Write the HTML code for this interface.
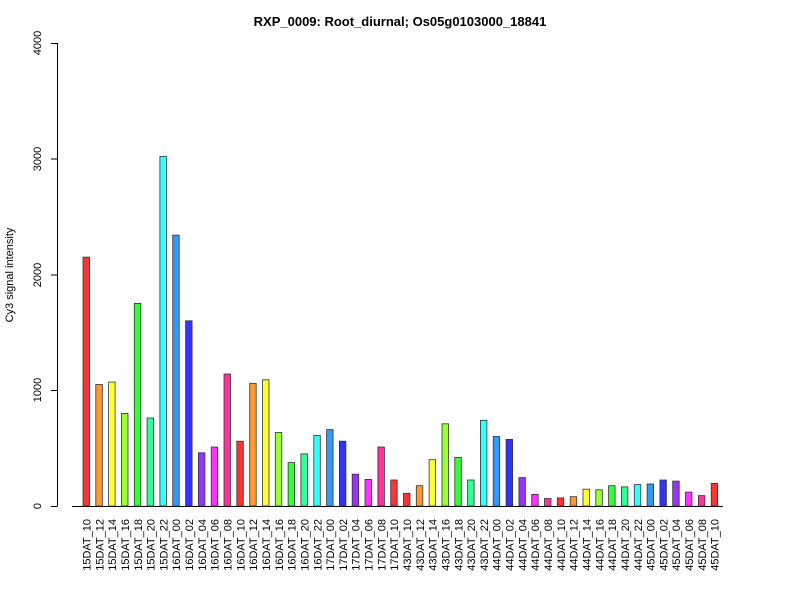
<!DOCTYPE html>
<html><head><style>body{margin:0;background:#fff}svg{display:block}
rect.b{stroke:#333;stroke-width:0.8}
.h10{fill:#FF3333}.h12{fill:#FF9933}.h14{fill:#FFFF33}.h16{fill:#99FF33}.h18{fill:#33FF33}.h20{fill:#33FF99}
.h22{fill:#33FFFF}.h00{fill:#3399FF}.h02{fill:#3333FF}.h04{fill:#9933FF}.h06{fill:#FF33FF}.h08{fill:#FF3399}
</style></head><body>
<svg width="800" height="600" xmlns="http://www.w3.org/2000/svg" font-family="Liberation Sans, Arial, sans-serif">
<rect width="800" height="600" fill="#fff"/>
<text x="400" y="26" text-anchor="middle" font-size="13" font-weight="bold">RXP_0009: Root_diurnal; Os05g0103000_18841</text>
<text transform="translate(13,275) rotate(-90)" text-anchor="middle" font-size="11">Cy3 signal intensity</text>
<g stroke="#000" stroke-width="1">
<line x1="57.5" y1="43" x2="57.5" y2="506"/>
<line x1="51" y1="506.5" x2="57.5" y2="506.5"/>
<line x1="51" y1="390.5" x2="57.5" y2="390.5"/>
<line x1="51" y1="275" x2="57.5" y2="275"/>
<line x1="51" y1="159" x2="57.5" y2="159"/>
<line x1="51" y1="43.5" x2="57.5" y2="43.5"/>
<line x1="72" y1="506.5" x2="723" y2="506.5"/>
</g>
<g font-size="11" text-anchor="middle">
<text transform="translate(41,506) rotate(-90)">0</text>
<text transform="translate(41,390) rotate(-90)">1000</text>
<text transform="translate(41,275) rotate(-90)">2000</text>
<text transform="translate(41,159) rotate(-90)">3000</text>
<text transform="translate(41,43) rotate(-90)">4000</text>
</g>
<g>
<rect class="b h10" x="83.0" y="257.1" width="6.5" height="248.9"/>
<rect class="b h12" x="95.8" y="384.5" width="6.5" height="121.5"/>
<rect class="b h14" x="108.6" y="382.1" width="6.5" height="123.9"/>
<rect class="b h16" x="121.5" y="413.4" width="6.5" height="92.6"/>
<rect class="b h18" x="134.3" y="303.4" width="6.5" height="202.6"/>
<rect class="b h20" x="147.1" y="418.0" width="6.5" height="88.0"/>
<rect class="b h22" x="159.9" y="156.4" width="6.5" height="349.6"/>
<rect class="b h00" x="172.7" y="235.1" width="6.5" height="270.9"/>
<rect class="b h02" x="185.6" y="320.8" width="6.5" height="185.2"/>
<rect class="b h04" x="198.4" y="452.8" width="6.5" height="53.2"/>
<rect class="b h06" x="211.2" y="447.0" width="6.5" height="59.0"/>
<rect class="b h08" x="224.0" y="374.0" width="6.5" height="132.0"/>
<rect class="b h10" x="236.8" y="441.2" width="6.5" height="64.8"/>
<rect class="b h12" x="249.7" y="383.3" width="6.5" height="122.7"/>
<rect class="b h14" x="262.5" y="379.8" width="6.5" height="126.2"/>
<rect class="b h16" x="275.3" y="432.5" width="6.5" height="73.5"/>
<rect class="b h18" x="288.1" y="462.6" width="6.5" height="43.4"/>
<rect class="b h20" x="300.9" y="453.9" width="6.5" height="52.1"/>
<rect class="b h22" x="313.8" y="435.4" width="6.5" height="70.6"/>
<rect class="b h00" x="326.6" y="429.6" width="6.5" height="76.4"/>
<rect class="b h02" x="339.4" y="441.2" width="6.5" height="64.8"/>
<rect class="b h04" x="352.2" y="474.2" width="6.5" height="31.8"/>
<rect class="b h06" x="365.0" y="479.4" width="6.5" height="26.6"/>
<rect class="b h08" x="377.9" y="447.0" width="6.5" height="59.0"/>
<rect class="b h10" x="390.7" y="480.0" width="6.5" height="26.0"/>
<rect class="b h10" x="403.5" y="493.3" width="6.5" height="12.7"/>
<rect class="b h12" x="416.3" y="485.7" width="6.5" height="20.3"/>
<rect class="b h14" x="429.1" y="459.7" width="6.5" height="46.3"/>
<rect class="b h16" x="442.0" y="423.8" width="6.5" height="82.2"/>
<rect class="b h18" x="454.8" y="457.4" width="6.5" height="48.6"/>
<rect class="b h20" x="467.6" y="480.0" width="6.5" height="26.0"/>
<rect class="b h22" x="480.4" y="420.3" width="6.5" height="85.7"/>
<rect class="b h00" x="493.2" y="436.5" width="6.5" height="69.5"/>
<rect class="b h02" x="506.1" y="439.4" width="6.5" height="66.6"/>
<rect class="b h04" x="518.9" y="477.6" width="6.5" height="28.4"/>
<rect class="b h06" x="531.7" y="494.4" width="6.5" height="11.6"/>
<rect class="b h08" x="544.5" y="498.5" width="6.5" height="7.5"/>
<rect class="b h10" x="557.3" y="497.9" width="6.5" height="8.1"/>
<rect class="b h12" x="570.2" y="496.7" width="6.5" height="9.3"/>
<rect class="b h14" x="583.0" y="489.2" width="6.5" height="16.8"/>
<rect class="b h16" x="595.8" y="489.8" width="6.5" height="16.2"/>
<rect class="b h18" x="608.6" y="485.7" width="6.5" height="20.3"/>
<rect class="b h20" x="621.4" y="486.9" width="6.5" height="19.1"/>
<rect class="b h22" x="634.3" y="484.6" width="6.5" height="21.4"/>
<rect class="b h00" x="647.1" y="484.0" width="6.5" height="22.0"/>
<rect class="b h02" x="659.9" y="480.0" width="6.5" height="26.0"/>
<rect class="b h04" x="672.7" y="481.1" width="6.5" height="24.9"/>
<rect class="b h06" x="685.5" y="492.1" width="6.5" height="13.9"/>
<rect class="b h08" x="698.4" y="495.6" width="6.5" height="10.4"/>
<rect class="b h10" x="711.2" y="483.4" width="6.5" height="22.6"/>
</g>
<g font-size="11" text-anchor="end">
<text transform="translate(90.5,519) rotate(-90)">15DAT_10</text>
<text transform="translate(103.3,519) rotate(-90)">15DAT_12</text>
<text transform="translate(116.1,519) rotate(-90)">15DAT_14</text>
<text transform="translate(129.0,519) rotate(-90)">15DAT_16</text>
<text transform="translate(141.8,519) rotate(-90)">15DAT_18</text>
<text transform="translate(154.6,519) rotate(-90)">15DAT_20</text>
<text transform="translate(167.4,519) rotate(-90)">15DAT_22</text>
<text transform="translate(180.2,519) rotate(-90)">16DAT_00</text>
<text transform="translate(193.1,519) rotate(-90)">16DAT_02</text>
<text transform="translate(205.9,519) rotate(-90)">16DAT_04</text>
<text transform="translate(218.7,519) rotate(-90)">16DAT_06</text>
<text transform="translate(231.5,519) rotate(-90)">16DAT_08</text>
<text transform="translate(244.3,519) rotate(-90)">16DAT_10</text>
<text transform="translate(257.2,519) rotate(-90)">16DAT_12</text>
<text transform="translate(270.0,519) rotate(-90)">16DAT_14</text>
<text transform="translate(282.8,519) rotate(-90)">16DAT_16</text>
<text transform="translate(295.6,519) rotate(-90)">16DAT_18</text>
<text transform="translate(308.4,519) rotate(-90)">16DAT_20</text>
<text transform="translate(321.3,519) rotate(-90)">16DAT_22</text>
<text transform="translate(334.1,519) rotate(-90)">17DAT_00</text>
<text transform="translate(346.9,519) rotate(-90)">17DAT_02</text>
<text transform="translate(359.7,519) rotate(-90)">17DAT_04</text>
<text transform="translate(372.5,519) rotate(-90)">17DAT_06</text>
<text transform="translate(385.4,519) rotate(-90)">17DAT_08</text>
<text transform="translate(398.2,519) rotate(-90)">17DAT_10</text>
<text transform="translate(411.0,519) rotate(-90)">43DAT_10</text>
<text transform="translate(423.8,519) rotate(-90)">43DAT_12</text>
<text transform="translate(436.6,519) rotate(-90)">43DAT_14</text>
<text transform="translate(449.5,519) rotate(-90)">43DAT_16</text>
<text transform="translate(462.3,519) rotate(-90)">43DAT_18</text>
<text transform="translate(475.1,519) rotate(-90)">43DAT_20</text>
<text transform="translate(487.9,519) rotate(-90)">43DAT_22</text>
<text transform="translate(500.7,519) rotate(-90)">44DAT_00</text>
<text transform="translate(513.6,519) rotate(-90)">44DAT_02</text>
<text transform="translate(526.4,519) rotate(-90)">44DAT_04</text>
<text transform="translate(539.2,519) rotate(-90)">44DAT_06</text>
<text transform="translate(552.0,519) rotate(-90)">44DAT_08</text>
<text transform="translate(564.8,519) rotate(-90)">44DAT_10</text>
<text transform="translate(577.7,519) rotate(-90)">44DAT_12</text>
<text transform="translate(590.5,519) rotate(-90)">44DAT_14</text>
<text transform="translate(603.3,519) rotate(-90)">44DAT_16</text>
<text transform="translate(616.1,519) rotate(-90)">44DAT_18</text>
<text transform="translate(628.9,519) rotate(-90)">44DAT_20</text>
<text transform="translate(641.8,519) rotate(-90)">44DAT_22</text>
<text transform="translate(654.6,519) rotate(-90)">45DAT_00</text>
<text transform="translate(667.4,519) rotate(-90)">45DAT_02</text>
<text transform="translate(680.2,519) rotate(-90)">45DAT_04</text>
<text transform="translate(693.0,519) rotate(-90)">45DAT_06</text>
<text transform="translate(705.9,519) rotate(-90)">45DAT_08</text>
<text transform="translate(718.7,519) rotate(-90)">45DAT_10</text>
</g>
</svg>
</body></html>
